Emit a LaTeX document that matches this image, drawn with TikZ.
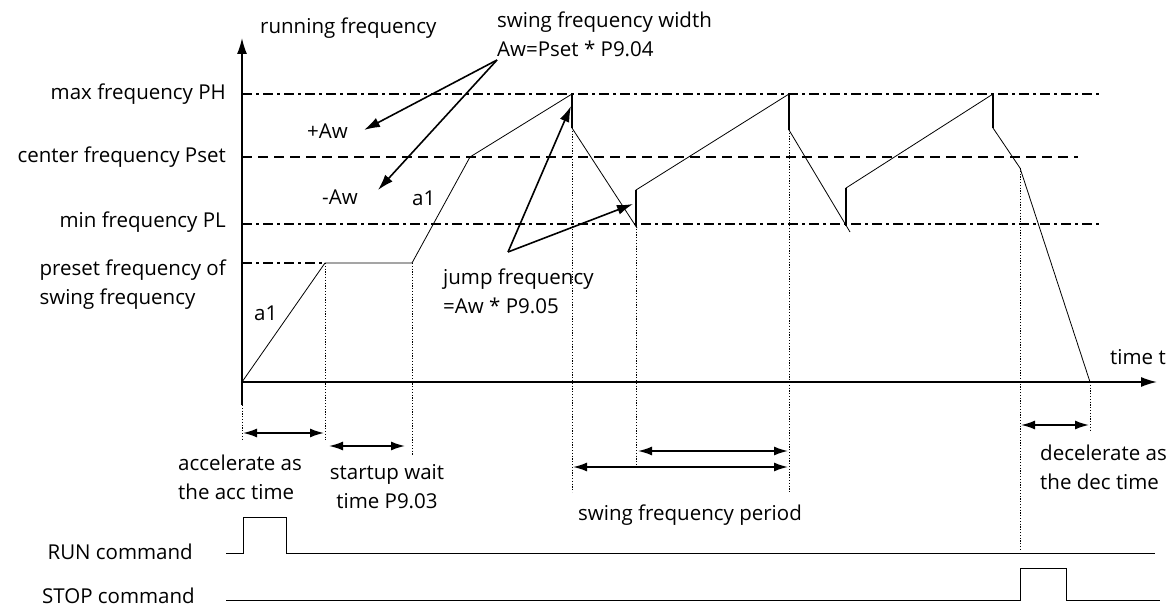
\documentclass[tikz,border=0pt]{standalone}
\usepackage{fontspec}
\setmainfont{Open Sans}
\usetikzlibrary{arrows.meta}
\begin{document}
\begin{tikzpicture}[x=1pt,y=-1pt,
  font=\fontsize{20.5}{29}\selectfont,
  curve/.style={line width=0.8pt, line join=miter},
  axisline/.style={line width=1.6pt,-{Latex[length=16pt,width=10pt]}},
  ddot/.style={line width=1.3pt, dash pattern=on 10pt off 4pt on 3pt off 4pt},
  dsh/.style={line width=1.3pt, dash pattern=on 10pt off 6pt},
  dotv/.style={line width=1pt, dash pattern=on 1.2pt off 1.6pt},
  span/.style={line width=1.6pt,{Latex[length=14pt,width=9pt]}-{Latex[length=14pt,width=9pt]}},
  note/.style={line width=1.6pt,-{Latex[length=16pt,width=10pt]}},
  lbl/.style={inner sep=0pt},
  sig/.style={line width=0.9pt}]
\useasboundingbox (0,0) rectangle (1172,609);

% axes
\coordinate (ybot) at (242,405);
\coordinate (ytop) at (242,38);
\coordinate (o) at (242,382);
\coordinate (xend) at (1157,382);
\draw[axisline] (ybot) -- (ytop);
\draw[axisline] (o) -- (xend);

% level lines
\coordinate (phA) at (242,94);   \coordinate (phB) at (1100,94);
\coordinate (psA) at (242,157);  \coordinate (psB) at (1078,157);
\coordinate (plA) at (242,224);  \coordinate (plB) at (1100,224);
\coordinate (prA) at (242,263);  \coordinate (prB) at (325,263);
\draw[line width=1.3pt] (phA) -- ++(8,0) (psA) -- ++(8,0) (plA) -- ++(8,0) (prA) -- ++(8,0);
\draw[ddot] (phA) -- (phB);
\draw[dsh] (psA) -- (psB);
\draw[ddot] (plA) -- (plB);
\draw[ddot] (prA) -- (prB);

% frequency curve
\coordinate (c1) at (325,263);
\coordinate (c2) at (412,263);
\coordinate (c3) at (470,157);
\coordinate (c4) at (572,94);
\coordinate (c5) at (572,128);
\coordinate (c6) at (637,228);
\coordinate (c6v) at (636,226);
\coordinate (c7) at (636,190);
\coordinate (c8) at (789,94);
\coordinate (c9) at (789,130);
\coordinate (c10) at (850,232);
\coordinate (c10v) at (846,226);
\coordinate (c11) at (846,188);
\coordinate (c12) at (993,94);
\coordinate (c13) at (993,128);
\coordinate (c14) at (1020,168);
\coordinate (c15) at (1090,382);
\draw[curve] (o) -- (c1) -- (c2) -- (c3) -- (c4) -- (c5) -- (c6);
\draw[curve] (c6v) -- (c7) -- (c8) -- (c9) -- (c10);
\draw[curve] (c10v) -- (c11) -- (c12) -- (c13) -- (c14) -- (c15);
\draw[line width=1.3pt] (c4) -- (c5) (c6v) -- (c7) (c8) -- (c9) (c10v) -- (c11) (c12) -- (c13);

% dotted verticals
\coordinate (d0) at (242,440);
\coordinate (d1) at (325,440);
\coordinate (d2) at (412,456);
\coordinate (d3) at (572,492);
\coordinate (d4) at (636,467);
\coordinate (d5) at (789,492);
\coordinate (d6) at (1020,550);
\coordinate (d7) at (1090,432);
\draw[dotv] (ybot) -- (d0);
\draw[dotv] (c1) -- (d1);
\draw[dotv] (c2) -- (d2);
\draw[dotv] (c5) -- (d3);
\draw[dotv] (c6v) -- (d4);
\draw[dotv] (c9) -- (d5);
\draw[dotv] (c14) -- (d6);
\draw[dotv] (c15) -- (d7);

% spans
\coordinate (s1a) at (243,433); \coordinate (s1b) at (324,433);
\coordinate (s2a) at (329,446); \coordinate (s2b) at (405,446);
\coordinate (s3a) at (638,451); \coordinate (s3b) at (788,451);
\coordinate (s4a) at (573,467); \coordinate (s4b) at (788,467);
\coordinate (s5a) at (1021,425); \coordinate (s5b) at (1089,425);
\draw[span] (s1a) -- (s1b);
\draw[span] (s2a) -- (s2b);
\draw[span] (s3a) -- (s3b);
\draw[span] (s4a) -- (s4b);
\draw[span] (s5a) -- (s5b);

% labels
\node[lbl,anchor=east] (lph) at (226,94) {max frequency PH};
\node[lbl,anchor=east] (lps) at (226,157) {center frequency Pset};
\node[lbl,anchor=east] (lpl) at (226,222) {min frequency PL};
\node[lbl,anchor=east,align=left] (lpr) at (226,285) {preset frequency of\\swing frequency};
\node[lbl,anchor=west] (lrun) at (260,28) {running frequency};
\node[lbl,anchor=west,align=left] (lsw) at (497,34) {swing frequency width\\Aw=Pset * P9.04};
\node[lbl,anchor=west] (lpa) at (307,131) {+Aw};
\node[lbl,anchor=west] (lma) at (322,197) {-Aw};
\node[lbl,anchor=west] (la1) at (412,198) {a1};
\node[lbl,anchor=west] (la2) at (254,313) {a1};
\node[lbl,anchor=west,align=left] (ljf) at (443,291) {jump frequency\\=Aw * P9.05};
\node[lbl,anchor=west] (lt) at (1110,357) {time t};
\node[lbl,anchor=west,align=left] (lacc) at (178,477) {accelerate as\\the acc time};
\node[lbl,align=center] (lsu) at (387,487) {startup wait\\time P9.03};
\node[lbl] (lsp) at (690,515) {swing frequency period};
\node[lbl,anchor=west,align=left] (ldec) at (1040,467) {decelerate as\\the dec time};
\node[lbl,anchor=east] (lrc) at (193,552) {RUN command};
\node[lbl,anchor=east] (lsc) at (195,596) {STOP command};

% annotation arrows
\coordinate (sw) at (497,60);
\coordinate (pa) at (364,130);
\coordinate (ma) at (378,190);
\draw[note] (sw) -- (pa);
\draw[note] (sw) -- (ma);
\coordinate (jf) at (508,252);
\coordinate (jt1) at (571,106);
\coordinate (jt2) at (633,204);
\draw[note] (jf) -- (jt1);
\draw[note] (jf) -- (jt2);

% command signals
\coordinate (r0) at (226,553); \coordinate (r1) at (243,553); \coordinate (r2) at (243,517);
\coordinate (r3) at (286,517); \coordinate (r4) at (286,553); \coordinate (r5) at (1155,553);
\draw[sig] (r0) -- (r1) -- (r2) -- (r3) -- (r4) -- (r5);
\coordinate (t0) at (226,600); \coordinate (t1) at (1020,600); \coordinate (t2) at (1020,568);
\coordinate (t3) at (1066,568); \coordinate (t4) at (1066,600); \coordinate (t5) at (1160,600);
\draw[sig] (t0) -- (t1) -- (t2) -- (t3) -- (t4) -- (t5);
\end{tikzpicture}
\end{document}
